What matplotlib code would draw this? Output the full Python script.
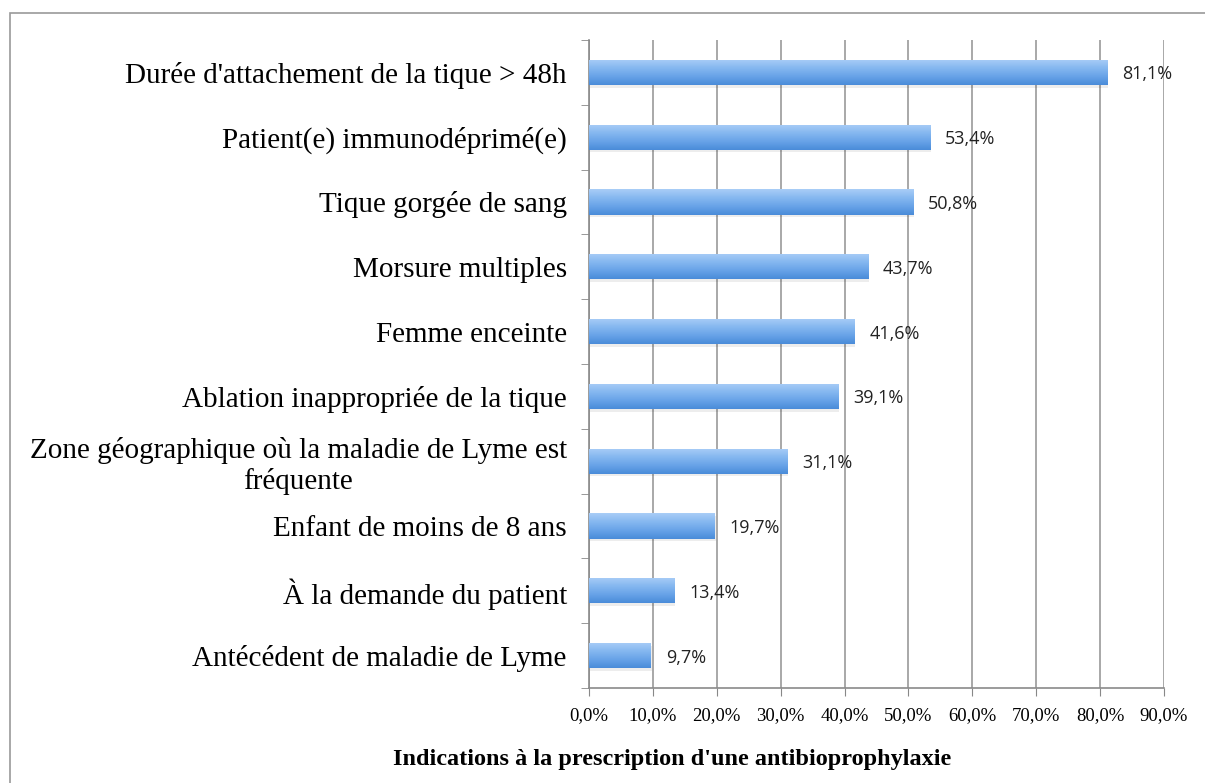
import numpy as np
import matplotlib
matplotlib.use("Agg")
import matplotlib.pyplot as plt
from matplotlib.colors import LinearSegmentedColormap
from matplotlib.patches import Rectangle

# données (de haut en bas)
categories = [
    "Durée d'attachement de la tique > 48h",
    "Patient(e) immunodéprimé(e)",
    "Tique gorgée de sang",
    "Morsure multiples",
    "Femme enceinte",
    "Ablation inappropriée de la tique",
    "Zone géographique où la maladie de Lyme est\nfréquente",
    "Enfant de moins de 8 ans",
    "À la demande du patient",
    "Antécédent de maladie de Lyme",
]
values = [81.1, 53.4, 50.8, 43.7, 41.6, 39.1, 31.1, 19.7, 13.4, 9.7]
xticks = [0, 10, 20, 30, 40, 50, 60, 70, 80, 90]
xlabel = "Indications à la prescription d'une antibioprophylaxie"

serif = ["Liberation Serif", "DejaVu Serif"]
grad = LinearSegmentedColormap.from_list("bleu", ["#a9cdf7", "#86b8f0", "#68a3e8", "#4a8cd9"])

fig = plt.figure(figsize=(12.05, 7.83), dpi=100)
# cadre gris autour du graphique
fig.add_artist(Rectangle((10 / 1205, -0.1), 1.2, (783 - 13) / 783 + 0.1,
                         transform=fig.transFigure, fill=False, edgecolor="#9a9a9a", lw=1.2))

ax = fig.add_axes([589 / 1205, 1 - 688 / 783, (1164 - 589) / 1205, (688 - 40) / 783])
y = np.arange(len(categories))
bar_h = 0.39

for yi, v in zip(y, values):
    # ombre légère
    ax.add_patch(Rectangle((0.1, yi - bar_h / 2 + 0.04), v, bar_h, facecolor="#000000",
                           alpha=0.07, edgecolor="none", zorder=2))
    r = Rectangle((0, yi - bar_h / 2), v, bar_h, facecolor="none", edgecolor="none", zorder=3)
    ax.add_patch(r)
    im = ax.imshow(np.linspace(0, 1, 64).reshape(-1, 1), cmap=grad, aspect="auto",
                   extent=(0, v, yi + bar_h / 2, yi - bar_h / 2), zorder=3, interpolation="bilinear")
    im.set_clip_path(r)
    ax.text(v + 2.3, yi + 0.03, f"{v:.1f}%".replace(".", ","), va="center", ha="left",
            fontsize=13, family=["Open Sans", "DejaVu Sans"], color="#222222", zorder=4)

ax.set_xlim(0, 90)
ax.set_ylim(len(categories) - 0.5, -0.5)

ax.set_xticks(xticks)
ax.set_xticklabels([f"{t:.1f}%".replace(".", ",") for t in xticks], family=serif, fontsize=13.5)
ax.set_yticks(y)
ax.set_yticklabels(categories, family=serif, fontsize=21, multialignment="center")
ax.set_yticks(np.arange(len(categories) + 1) - 0.5, minor=True)
ax.tick_params(axis="y", which="major", length=0, pad=16)
ax.tick_params(axis="y", which="minor", length=6, color="#888888", direction="out")
ax.tick_params(axis="x", length=6, color="#888888", direction="out", pad=8)

ax.grid(axis="x", color="#9a9a9a", lw=1.2, zorder=1)
ax.set_axisbelow(True)
for s in ["top", "right"]:
    ax.spines[s].set_visible(False)
for s in ["left", "bottom"]:
    ax.spines[s].set_color("#8a8a8a")
    ax.spines[s].set_linewidth(1.2)

fig.text(672 / 1205, 1 - 760 / 783, xlabel, family=serif, fontsize=17.5, fontweight="bold",
         ha="center", va="center")

fig.savefig("out.png", dpi=100)
